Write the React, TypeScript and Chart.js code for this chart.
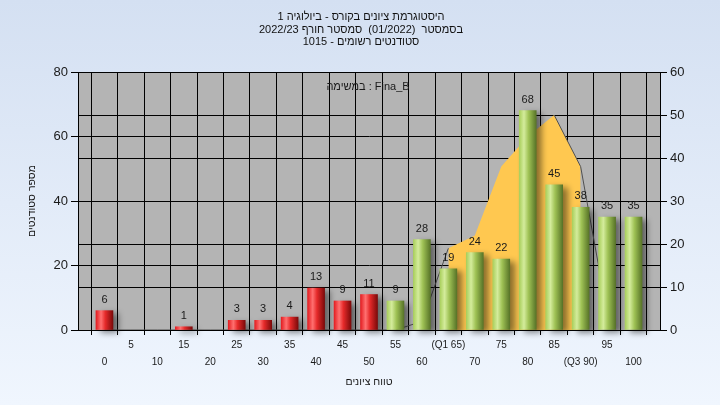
import React, { useEffect, useRef } from 'react';
import { Chart, registerables } from 'chart.js';

Chart.register(...registerables);

// ---- data ----
const titleLines = [
  'היסטוגרמת ציונים בקורס - ביולוגיה 1',
  'בסמסטר  (01/2022)  סמסטר חורף 2022/23',
  'סטודנטים רשומים - 1015',
];
const seriesCaption = 'במשימה : Fina_B';
const yAxisTitle = 'מספר סטודנטים';
const xAxisTitle = 'טווח ציונים';

const scoreBins = [0, 5, 10, 15, 20, 25, 30, 35, 40, 45, 50, 55, 60, 65, 70, 75, 80, 85, 90, 95, 100];
const binLabels = ['0', '5', '10', '15', '20', '25', '30', '35', '40', '45', '50', '55', '60', '(Q1 65)', '70', '75', '80', '85', '(Q3 90)', '95', '100'];
const studentCounts = [6, 0, 0, 1, 0, 3, 3, 4, 13, 9, 11, 9, 28, 19, 24, 22, 68, 45, 38, 35, 35];
const curveValues: (number | null)[] = [0, 0, 0, 0, 0, 0, 0, 0, 0, 0, 0, 0, 2, 19, 22, 38, 45, 50, 38, 4, null];
const q1Score = 65;
const q3Score = 90;
const passScore = 55;

const FONT = "'Liberation Sans', Arial, sans-serif";
const TEXT = '#1a1a1a';

export default function App() {
  const ref = useRef<HTMLCanvasElement | null>(null);

  useEffect(() => {
    const canvas = ref.current;
    if (!canvas) return;

    const barData = scoreBins.map((b, i) => ({ x: b, y: studentCounts[i] }));
    const curveData = scoreBins.map((b, i) => ({ x: b, y: curveValues[i] }));
    const areaData = scoreBins
      .map((b, i) => ({ x: b, y: curveValues[i] }))
      .filter((p) => p.x >= q1Score && p.x <= q3Score);

    const BAR_W = 17;

    const barGradient = (c: any) => {
      const chart = c.chart;
      const bin = scoreBins[c.dataIndex];
      if (!studentCounts[c.dataIndex]) return 'rgba(0,0,0,0)';
      const pass = bin >= passScore;
      const xs = chart.scales?.x;
      if (!chart.chartArea || !xs || c.type !== 'data') return pass ? '#9cc050' : '#e02020';
      const px = xs.getPixelForValue(bin);
      const g = chart.ctx.createLinearGradient(px - BAR_W / 2, 0, px + BAR_W / 2, 0);
      if (pass) {
        g.addColorStop(0, '#a9cf5c');
        g.addColorStop(0.28, '#d4ec9c');
        g.addColorStop(0.55, '#9fc255');
        g.addColorStop(1, '#587428');
      } else {
        g.addColorStop(0, '#e41e22');
        g.addColorStop(0.3, '#ff7070');
        g.addColorStop(0.55, '#e62a2a');
        g.addColorStop(1, '#7c0a0a');
      }
      return g;
    };

    const bgPlugin = {
      id: 'bgPlugin',
      beforeDraw(chart: any) {
        const { ctx, width, height, chartArea } = chart;
        ctx.save();
        const g = ctx.createLinearGradient(0, 0, 0, height);
        g.addColorStop(0, '#d4e0f2');
        g.addColorStop(1, '#f0f6fe');
        ctx.fillStyle = g;
        ctx.fillRect(0, 0, width, height);
        ctx.fillStyle = '#b4b4b4';
        ctx.fillRect(chartArea.left, chartArea.top, chartArea.right - chartArea.left, chartArea.bottom - chartArea.top);
        ctx.restore();
      },
    };

    const shadowPlugin = {
      id: 'shadowPlugin',
      beforeDatasetDraw(chart: any, args: any) {
        if (args.meta.type !== 'bar') return;
        const ctx = chart.ctx;
        ctx.save();
        ctx.shadowColor = 'rgba(0,0,0,0.45)';
        ctx.shadowBlur = 6;
        ctx.shadowOffsetX = 5;
        ctx.shadowOffsetY = 3;
      },
      afterDatasetDraw(chart: any, args: any) {
        if (args.meta.type !== 'bar') return;
        chart.ctx.restore();
      },
    };

    const textPlugin = {
      id: 'textPlugin',
      afterDatasetsDraw(chart: any) {
        const { ctx, chartArea } = chart;
        ctx.save();
        const meta = chart.getDatasetMeta(0);
        ctx.font = `11px ${FONT}`;
        ctx.fillStyle = TEXT;
        ctx.textAlign = 'center';
        ctx.textBaseline = 'alphabetic';
        meta.data.forEach((el: any, i: number) => {
          const v = studentCounts[i];
          if (!v) return;
          ctx.fillText(String(v), el.x, el.y - 8);
        });
        ctx.font = `11px ${FONT}`;
        ctx.textBaseline = 'middle';
        ctx.fillText(seriesCaption, (chartArea.left + chartArea.right) / 2 - 1, chartArea.top + 15);
        ctx.restore();
      },
      afterDraw(chart: any) {
        const ctx = chart.ctx;
        ctx.save();
        ctx.font = `11px ${FONT}`;
        ctx.fillStyle = '#111';
        ctx.textAlign = 'center';
        ctx.textBaseline = 'middle';
        titleLines.forEach((t, i) => ctx.fillText(t, 361, 17 + i * 12.6));
        ctx.restore();
      },
    };

    const chart = new Chart(canvas, {
      type: 'bar',
      data: {
        datasets: [
          {
            type: 'bar',
            data: barData as any,
            backgroundColor: barGradient as any,
            borderWidth: 0,
            barThickness: BAR_W,
            yAxisID: 'y',
            order: 0,
            clip: false as any,
          },
          {
            type: 'line',
            data: curveData as any,
            borderColor: '#505050',
            borderWidth: 1,
            pointRadius: 0,
            fill: false,
            spanGaps: false,
            yAxisID: 'y1',
            order: 1,
            segment: {
              borderColor: (c: any) => {
                const a = c.p0.parsed, b = c.p1.parsed;
                return a.x >= q1Score && b.x <= q3Score && b.y > a.y ? 'rgba(0,0,0,0)' : undefined;
              },
            },
          } as any,
          {
            type: 'line',
            data: areaData as any,
            borderWidth: 0,
            borderColor: 'rgba(0,0,0,0)',
            backgroundColor: '#ffc850',
            pointRadius: 0,
            fill: 'origin',
            yAxisID: 'y1',
            order: 2,
          } as any,
        ],
      },
      options: {
        animation: false,
        responsive: false,
        maintainAspectRatio: false,
        layout: { padding: { top: 72, left: 0, right: 0, bottom: 0 } },
        plugins: {
          legend: { display: false },
          tooltip: { enabled: false },
          title: { display: false },
        },
        scales: {
          x: {
            type: 'linear',
            min: -5,
            max: 105,
            offset: false,
            ticks: {
              stepSize: 5,
              autoSkip: false,
              maxRotation: 0,
              minRotation: 0,
              color: TEXT,
              padding: 1,
              font: { size: 10, family: FONT, lineHeight: 1.75 },
              callback: (value: any) => {
                const idx = scoreBins.indexOf(Number(value));
                if (idx < 0) return '';
                return idx % 2 === 1 ? binLabels[idx] : ['', binLabels[idx]];
              },
            },
            grid: { color: '#000', lineWidth: 1, tickLength: 5 },
            border: { color: '#000' },
            title: {
              display: true,
              text: xAxisTitle,
              color: TEXT,
              font: { size: 10.5, family: FONT },
              padding: { top: 0, bottom: 17 },
            },
            afterFit: (s: any) => { s.height = 75; },
          } as any,
          y: {
            position: 'left',
            min: 0,
            max: 80,
            ticks: { stepSize: 20, color: TEXT, padding: 3, font: { size: 13, family: FONT } },
            grid: { color: '#000', lineWidth: 1, tickLength: 7 },
            border: { color: '#000' },
            title: {
              display: true,
              text: yAxisTitle,
              color: TEXT,
              font: { size: 10.5, family: FONT },
              padding: { top: 26, bottom: 0 },
            },
            afterFit: (s: any) => { s.width = 78; },
          } as any,
          y1: {
            position: 'right',
            min: 0,
            max: 60,
            ticks: { stepSize: 10, color: TEXT, padding: 3, font: { size: 13, family: FONT } },
            grid: { color: '#000', lineWidth: 1, tickLength: 7 },
            border: { color: '#000' },
            afterFit: (s: any) => { s.width = 60; },
          } as any,
        },
      },
      plugins: [bgPlugin, shadowPlugin, textPlugin],
    });

    return () => chart.destroy();
  }, []);

  return (
    <div style={{ position: 'fixed', left: 0, top: 0, width: 720, height: 405 }}>
      <canvas ref={ref} width={720} height={405} style={{ display: 'block', width: 720, height: 405 }} />
    </div>
  );
}
